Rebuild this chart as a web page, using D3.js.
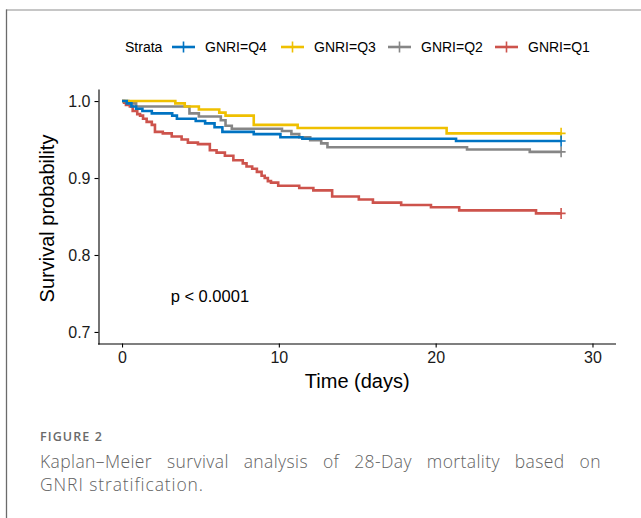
<!DOCTYPE html>
<html>
<head>
<meta charset="utf-8">
<script src="https://cdn.jsdelivr.net/npm/d3@7"></script>
<style>
  body { margin: 0; background: #fff; }
  svg { display: block; }
  .axis text { font-family: "Liberation Sans", Arial, sans-serif; font-size: 16px; fill: #1a1a1a; }
  .axis path, .axis line { stroke: #000; stroke-width: 1.1px; }
</style>
</head>
<body>
<svg width="641" height="518"></svg>
<script>
'use strict';

// Kaplan-Meier steps: event times (days) and survival after the event
var STRATA = ['GNRI=Q4', 'GNRI=Q3', 'GNRI=Q2', 'GNRI=Q1'];
var COLORS = ['#0073C2', '#EFC000', '#868686', '#CD534C'];

var q4Time = [0, 0.3, 0.6, 0.9, 1.3, 1.9, 3.2, 3.5, 4.7, 5.3, 5.9, 6.4, 8.4, 10.1, 11.5, 21.3, 28];
var q4Surv = [1, 0.997, 0.993, 0.990, 0.987, 0.984, 0.981, 0.977, 0.974, 0.971, 0.966, 0.960, 0.957, 0.953, 0.951, 0.948, 0.948];

var q3Time = [0, 3.4, 4.0, 4.9, 6.2, 6.6, 8.4, 11.2, 20.7, 28];
var q3Surv = [1, 0.997, 0.993, 0.989, 0.985, 0.981, 0.969, 0.965, 0.958, 0.958];

var q2Time = [0, 0.4, 0.9, 4.3, 4.9, 6.3, 6.6, 7.0, 10.2, 10.8, 11.3, 12.0, 12.7, 13.1, 22.0, 26.0, 28];
var q2Surv = [1, 0.997, 0.993, 0.984, 0.980, 0.975, 0.968, 0.964, 0.961, 0.957, 0.953, 0.949, 0.945, 0.940, 0.937, 0.934, 0.934];

var q1Time = [0, 0.13, 0.25, 0.5, 0.68, 0.97, 1.15, 1.34, 1.57, 1.9, 2.1, 2.6, 3.17, 3.8, 4.2, 4.84, 5.6, 6.03, 6.56, 7.1,
  7.7, 7.94, 8.3, 8.6, 8.9, 9.1, 9.3, 9.5, 9.96, 11.3, 12.2, 13.4, 15.1, 16.0, 17.8, 19.7, 21.5, 26.4, 28];
var q1Surv = [1, 0.998, 0.995, 0.993, 0.987, 0.983, 0.981, 0.977, 0.973, 0.969, 0.960, 0.958, 0.954, 0.950, 0.946, 0.944, 0.936, 0.933, 0.929, 0.923,
  0.919, 0.915, 0.912, 0.908, 0.903, 0.900, 0.896, 0.894, 0.890, 0.887, 0.884, 0.876, 0.872, 0.868, 0.865, 0.862, 0.858, 0.854, 0.854];

var X_TICKS = [0, 10, 20, 30];
var Y_TICKS = [0.7, 0.8, 0.9, 1.0];
var PVAL = 'p < 0.0001';

var series = [
  { name: STRATA[0], color: COLORS[0], t: q4Time, s: q4Surv },
  { name: STRATA[1], color: COLORS[1], t: q3Time, s: q3Surv },
  { name: STRATA[2], color: COLORS[2], t: q2Time, s: q2Surv },
  { name: STRATA[3], color: COLORS[3], t: q1Time, s: q1Surv }
];

var svg = d3.select('svg');
var panel = { left: 98.5, right: 616, top: 89.5, bottom: 343.5 };

var xScale = d3.scaleLinear().domain([-1.5, 31.5]).range([panel.left, panel.right]);
var yScale = d3.scaleLinear().domain([0.685, 1.015]).range([panel.bottom, panel.top]);

// page frame
svg.append('line').attr('x1', 6).attr('x2', 641).attr('y1', 10).attr('y2', 10)
  .attr('stroke', '#b3b3b3').attr('stroke-width', 1.5);
svg.append('line').attr('x1', 6.5).attr('x2', 6.5).attr('y1', 9.5).attr('y2', 518)
  .attr('stroke', '#6b6b6b').attr('stroke-width', 1.3);

// axes
var xAxis = d3.axisBottom(xScale).tickValues(X_TICKS).tickSize(4).tickSizeOuter(0).tickPadding(4);
var yAxis = d3.axisLeft(yScale).tickValues(Y_TICKS).tickSize(4).tickSizeOuter(0).tickPadding(4)
  .tickFormat(d3.format('.1f'));

svg.append('g').attr('class', 'x axis')
  .attr('transform', 'translate(0,' + panel.bottom + ')').call(xAxis)
  .select('.domain').attr('d', 'M' + (panel.left - 0.5) + ',0.5H' + panel.right);
svg.append('g').attr('class', 'y axis')
  .attr('transform', 'translate(' + panel.left + ',0)').call(yAxis)
  .select('.domain').attr('d', 'M0.5,' + panel.top + 'V' + (panel.bottom + 1));

svg.append('text').attr('x', (panel.left + panel.right) / 2).attr('y', 388)
  .attr('text-anchor', 'middle')
  .style('font-family', '"Liberation Sans", Arial, sans-serif').style('font-size', '20px').style('fill', '#000')
  .text('Time (days)');
svg.append('text').attr('transform', 'translate(54,' + ((panel.top + panel.bottom) / 2 + 2) + ') rotate(-90)')
  .attr('text-anchor', 'middle')
  .style('font-family', '"Liberation Sans", Arial, sans-serif').style('font-size', '20px').style('fill', '#000')
  .text('Survival probability');

// curves
var line = d3.line()
  .x(function (d) { return xScale(d[0]); })
  .y(function (d) { return yScale(d[1]); })
  .curve(d3.curveStepAfter);

var curves = svg.append('g').attr('class', 'curves');
series.slice().reverse().forEach(function (sr) {
  var pts = sr.t.map(function (t, i) { return [t, sr.s[i]]; });
  curves.append('path').attr('d', line(pts))
    .attr('fill', 'none').attr('stroke', sr.color).attr('stroke-width', 2.6);
  var last = pts[pts.length - 1];
  var cx = xScale(last[0]), cy = yScale(last[1]);
  curves.append('path').attr('d', 'M' + cx + ',' + (cy - 5.5) + 'V' + (cy + 5.5) + 'M' + (cx - 4.5) + ',' + cy + 'H' + (cx + 4.5))
    .attr('stroke', sr.color).attr('stroke-width', 1.6).attr('fill', 'none');
});

svg.append('text').attr('x', xScale(3.1)).attr('y', yScale(0.747) + 6)
  .style('font-family', '"Liberation Sans", Arial, sans-serif').style('font-size', '16.5px').style('fill', '#000')
  .text(PVAL);

// legend
var legend = svg.append('g').attr('class', 'legend')
  .style('font-family', '"Liberation Sans", Arial, sans-serif').style('font-size', '14px');
legend.append('text').attr('x', 125).attr('y', 52).text('Strata');
var legendX = [172, 281, 388, 495];
series.forEach(function (sr, i) {
  var g = legend.append('g').attr('transform', 'translate(' + legendX[i] + ',47)');
  g.append('path').attr('d', 'M0,0H23').attr('stroke', sr.color).attr('stroke-width', 2.6);
  g.append('path').attr('d', 'M11.5,-5.5V5.5').attr('stroke', sr.color).attr('stroke-width', 1.6);
  g.append('text').attr('x', 33).attr('y', 5).text(sr.name);
});

// caption
var cap = svg.append('g').style('font-family', '"Open Sans", sans-serif').style('fill', '#626262');
cap.append('text').attr('x', 40).attr('y', 441).style('font-size', '12.5px').style('font-weight', 600)
  .style('letter-spacing', '1.1px').style('fill', '#6a6a6a').text('FIGURE 2');

function justify(words, y, x0, x1) {
  var nodes = words.map(function (w) {
    return cap.append('text').attr('y', y).style('font-size', '17.5px').style('font-weight', 300)
      .style('letter-spacing', '0.4px').text(w);
  });
  var widths = nodes.map(function (n) { return n.node().getComputedTextLength(); });
  var gap = (x1 - x0 - d3.sum(widths)) / (words.length - 1);
  var x = x0;
  nodes.forEach(function (n, i) { n.attr('x', x); x += widths[i] + gap; });
}
justify('Kaplan\u2013Meier survival analysis of 28-Day mortality based on'.split(' '), 468, 40, 601);
cap.append('text').attr('x', 40).attr('y', 491).style('font-size', '17.5px').style('font-weight', 300)
  .style('letter-spacing', '0.9px').text('GNRI stratification.');
</script>
</body>
</html>
